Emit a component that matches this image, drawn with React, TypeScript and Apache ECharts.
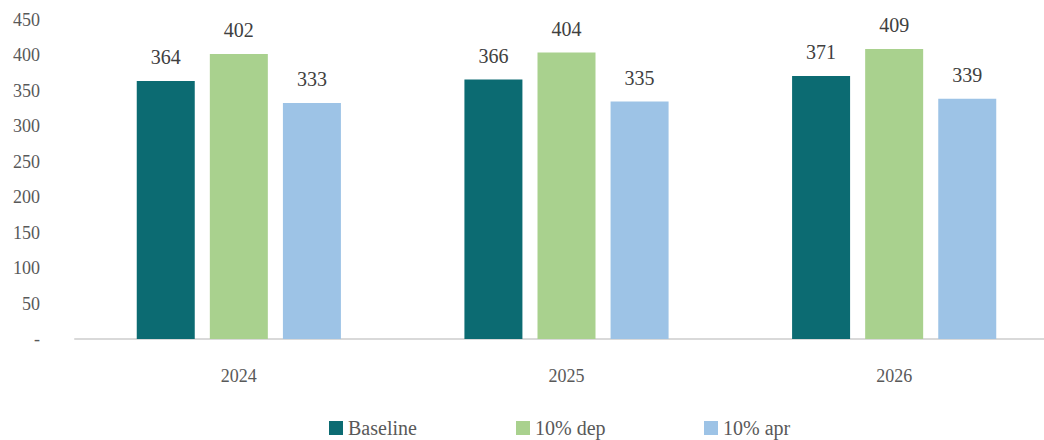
import React, { useEffect, useRef } from "react";
import * as echarts from "echarts";

const categories = ["2024", "2025", "2026"];
const baseline = [364, 366, 371];
const dep = [402, 404, 409];
const apr = [333, 335, 339];
const seriesNames = ["Baseline", "10% dep", "10% apr"];
const colors = ["#0C6B72", "#A9D18E", "#9DC3E6"];
const legendLefts = [324, 511, 699];

export default function App() {
  const ref = useRef<HTMLDivElement>(null);
  useEffect(() => {
    document.body.style.margin = "0";
    document.body.style.overflow = "hidden";
    document.documentElement.style.overflow = "hidden";
    const chart = echarts.init(ref.current!, undefined, { renderer: "svg" });
    const font = "'Liberation Serif', 'Times New Roman', serif";
    const mk = (name: string, data: number[], color: string) => ({
      name,
      type: "bar",
      data,
      barWidth: 58,
      barGap: "26%",
      itemStyle: { color },
      label: {
        show: true,
        position: "top",
        distance: 14,
        color: "#404040",
        fontFamily: font,
        fontSize: 20,
      },
    });
    chart.setOption({
      animation: false,
      textStyle: { fontFamily: font },
      grid: { left: 75, right: 2, top: 20, bottom: 101, containLabel: false },
      legend: seriesNames.map((n, i) => ({
        left: legendLefts[i],
        top: 413,
        itemWidth: 14,
        itemHeight: 14,
        itemGap: 7,
        icon: "rect",
        textStyle: { fontFamily: font, fontSize: 20, color: "#595959" },
        data: [n],
      })),
      xAxis: {
        type: "category",
        data: categories,
        axisTick: { show: false },
        axisLine: { lineStyle: { color: "#D9D9D9", width: 2 } },
        axisLabel: { color: "#595959", fontFamily: font, fontSize: 18, margin: 28 },
      },
      yAxis: {
        type: "value",
        min: 0,
        max: 450,
        interval: 50,
        splitLine: { show: false },
        axisLine: { show: false },
        axisTick: { show: false },
        axisLabel: {
          color: "#595959",
          fontFamily: font,
          fontSize: 18,
          margin: 35,
          formatter: (v: number) => (v === 0 ? "-" : String(v)),
        },
      },
      series: [
        mk(seriesNames[0], baseline, colors[0]),
        mk(seriesNames[1], dep, colors[1]),
        mk(seriesNames[2], apr, colors[2]),
      ],
    });
    return () => chart.dispose();
  }, []);
  return <div ref={ref} style={{ width: 1060, height: 440 }} />;
}
